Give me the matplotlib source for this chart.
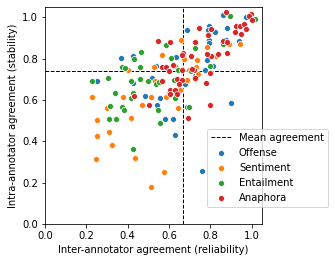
import matplotlib
matplotlib.use("Agg")
import matplotlib.pyplot as plt

# inter-annotator (x) vs intra-annotator (y) agreement
offense_x = [0.861, 0.975, 0.883, 0.938, 0.796, 0.791, 0.825, 0.688, 0.793, 0.796,
             0.874, 0.369, 0.424, 0.537, 0.782, 0.811, 0.773, 0.635, 0.251, 0.427,
             0.518, 0.482, 0.558, 0.542, 0.688, 0.900, 0.581, 0.620, 0.631, 0.761,
             0.676, 0.728]
offense_y = [1.010, 1.000, 0.948, 0.886, 0.956, 0.940, 0.929, 0.940, 0.892, 0.876,
             0.889, 0.805, 0.812, 0.765, 0.796, 0.763, 0.747, 0.808, 0.691, 0.684,
             0.709, 0.620, 0.610, 0.578, 0.567, 0.588, 0.510, 0.510, 0.433, 0.256,
             0.680, 0.715]

sentiment_x = [0.964, 0.942, 0.890, 0.829, 0.782, 0.660, 0.672, 0.736, 0.731, 0.567,
               0.403, 0.529, 0.631, 0.743, 0.688, 0.230, 0.376, 0.512, 0.584, 0.602,
               0.652, 0.534, 0.301, 0.471, 0.643, 0.251, 0.418, 0.309, 0.251, 0.324,
               0.248, 0.436, 0.576, 0.513, 0.698, 0.728]
sentiment_y = [0.962, 0.873, 0.873, 0.815, 0.855, 0.889, 0.800, 0.792, 0.760, 0.817,
               0.744, 0.760, 0.767, 0.728, 0.699, 0.617, 0.617, 0.617, 0.615, 0.636,
               0.647, 0.694, 0.561, 0.578, 0.561, 0.502, 0.514, 0.443, 0.425, 0.383,
               0.314, 0.320, 0.251, 0.177, 0.744, 0.700]

entailment_x = [0.893, 1.016, 0.863, 0.724, 0.588, 0.612, 0.431, 0.466, 0.372, 0.389,
                0.458, 0.644, 0.798, 0.707, 0.228, 0.304, 0.416, 0.458, 0.497, 0.539,
                0.554, 0.623, 0.337, 0.427, 0.416, 0.631, 0.313, 0.371, 0.385, 0.547,
                0.696, 0.309, 0.343, 0.555, 0.424]
entailment_y = [1.006, 0.993, 0.873, 0.853, 0.868, 0.805, 0.800, 0.832, 0.760, 0.755,
                0.760, 0.747, 0.763, 0.741, 0.691, 0.707, 0.694, 0.704, 0.691, 0.680,
                0.688, 0.696, 0.633, 0.636, 0.612, 0.612, 0.570, 0.567, 0.554, 0.554,
                0.567, 0.507, 0.507, 0.488, 0.365]

anaphora_x = [0.874, 0.995, 0.987, 1.003, 0.923, 0.944, 0.961, 0.919, 0.947, 0.974,
              0.804, 0.790, 0.745, 0.863, 0.882, 0.838, 0.882, 0.803, 0.785, 0.725,
              0.547, 0.607, 0.669, 0.661, 0.709, 0.567, 0.586, 0.620, 0.601, 0.661,
              0.798, 0.720, 0.712, 0.567, 0.639, 0.664, 0.728, 0.777, 0.429, 0.605,
              0.630, 0.607, 0.639, 0.505, 0.800, 0.690, 0.647]
anaphora_y = [1.026, 1.018, 1.005, 0.989, 0.956, 0.958, 0.966, 0.929, 0.921, 0.942,
              0.945, 0.916, 0.948, 0.886, 0.881, 0.824, 0.828, 0.812, 0.824, 0.881,
              0.886, 0.881, 0.828, 0.816, 0.815, 0.760, 0.760, 0.768, 0.741, 0.744,
              0.731, 0.744, 0.752, 0.691, 0.700, 0.696, 0.709, 0.683, 0.618, 0.647,
              0.647, 0.628, 0.628, 0.578, 0.578, 0.514, 0.680]

mean_inter = 0.668
mean_intra = 0.742

tasks = ["Offense", "Sentiment", "Entailment", "Anaphora"]
colors = ["#1f77b4", "#ff7f0e", "#2ca02c", "#d62728"]
xs = [offense_x, sentiment_x, entailment_x, anaphora_x]
ys = [offense_y, sentiment_y, entailment_y, anaphora_y]


def main():
    fig = plt.figure(figsize=(335 / 72, 262 / 72), dpi=72)
    ax = fig.add_axes([0.134, 0.145, 0.648, 0.828])

    mean_line = ax.axvline(mean_inter, color="black", linestyle="--", linewidth=1,
                           label="Mean agreement")
    ax.axhline(mean_intra, color="black", linestyle="--", linewidth=1)

    handles = [mean_line]
    for name, color, x, y in zip(tasks, colors, xs, ys):
        h = ax.scatter(x, y, s=36, color=color, edgecolor="white", linewidth=0.75,
                       label=name, zorder=2)
        handles.append(h)

    ax.set_xlim(0, 1.05)
    ax.set_ylim(0, 1.05)
    ax.set_xticks([0, 0.2, 0.4, 0.6, 0.8, 1.0])
    ax.set_yticks([0, 0.2, 0.4, 0.6, 0.8, 1.0])
    ax.set_xlabel("Inter-annotator agreement (reliability)")
    ax.set_ylabel("Intra-annotator agreement (stability)")

    ax.legend(handles=handles, loc="lower right", bbox_to_anchor=(0.979, 0.21),
              bbox_transform=fig.transFigure, borderaxespad=0)

    fig.savefig("out.png", dpi=72)


if __name__ == "__main__":
    main()
